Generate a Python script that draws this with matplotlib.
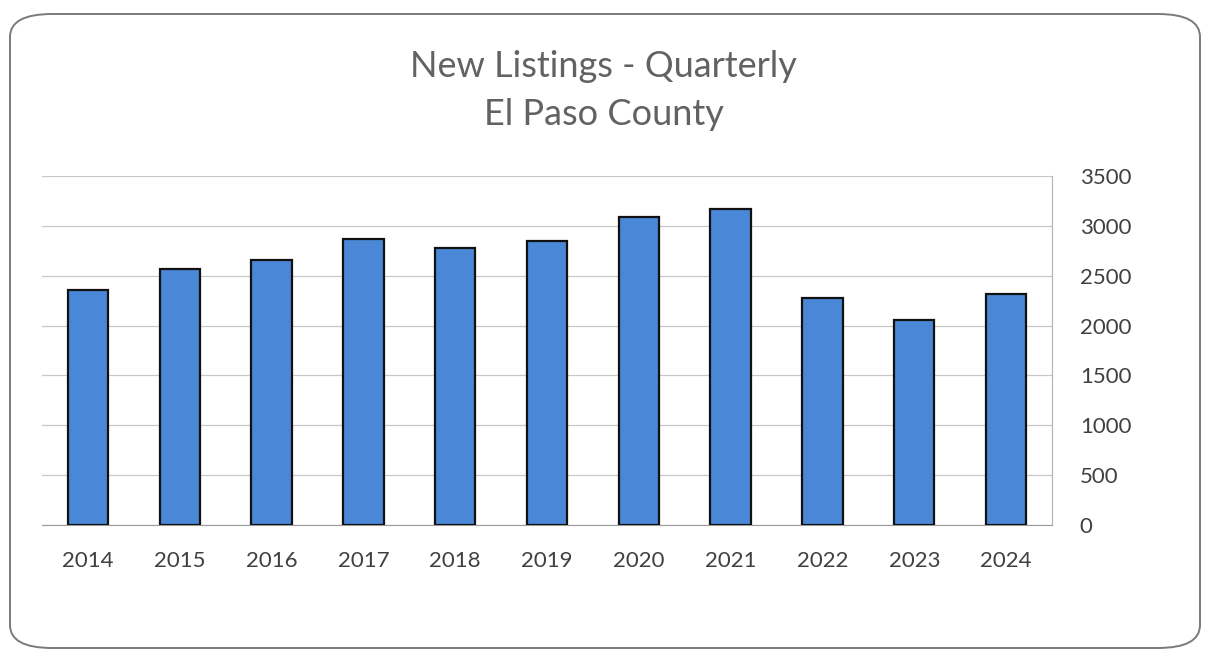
import matplotlib.pyplot as plt
from matplotlib.patches import FancyBboxPatch

years = ["2014", "2015", "2016", "2017", "2018", "2019", "2020", "2021", "2022", "2023", "2024"]
listings = [2360, 2570, 2660, 2870, 2780, 2850, 3090, 3165, 2275, 2055, 2315]
yticks = [0, 500, 1000, 1500, 2000, 2500, 3000, 3500]

plt.rcParams['font.family'] = ['Lato', 'DejaVu Sans']

fig = plt.figure(figsize=(12.07, 6.54), dpi=100)
fig.patch.set_facecolor('white')

# rounded chart frame
frame = FancyBboxPatch((10 / 1207, 6 / 654), 1190 / 1207, 634 / 654,
                       boxstyle="round,pad=0,rounding_size=0.035",
                       transform=fig.transFigure, facecolor='none',
                       edgecolor='#7a7a7a', linewidth=1.4)
fig.patches.append(frame)

ax = fig.add_axes([42 / 1207, 1 - 525 / 654, 1010 / 1207, 349 / 654])
x = range(len(years))
ax.bar(x, listings, width=0.44, color='#4a87d6', edgecolor='#111111', linewidth=1.6, zorder=3)

ax.set_xlim(-0.5, len(years) - 0.5)
ax.set_ylim(0, 3500)
ax.set_yticks(yticks)
ax.set_xticks(list(x))
ax.set_xticklabels(years)
ax.yaxis.tick_right()
ax.tick_params(axis='y', length=0, pad=20, labelsize=16, labelcolor='#404040')
ax.tick_params(axis='x', length=0, pad=19, labelsize=16, labelcolor='#404040')
for lab in ax.get_yticklabels():
    lab.set_horizontalalignment('left')
ax.yaxis.grid(True, color='#c8c8c8', linewidth=0.9, zorder=0)

for side in ['top', 'left']:
    ax.spines[side].set_visible(False)
ax.spines['bottom'].set_color('#9a9a9a')
ax.spines['right'].set_color('#b8b8b8')
ax.spines['right'].set_linewidth(0.9)

fig.text(0.5, 1 - 77 / 654, "New Listings - Quarterly", ha='center', va='baseline',
         fontsize=26, color='#626262')
fig.text(0.5, 1 - 125 / 654, "El Paso County", ha='center', va='baseline',
         fontsize=26, color='#626262')

fig.savefig("out.png", dpi=100)
